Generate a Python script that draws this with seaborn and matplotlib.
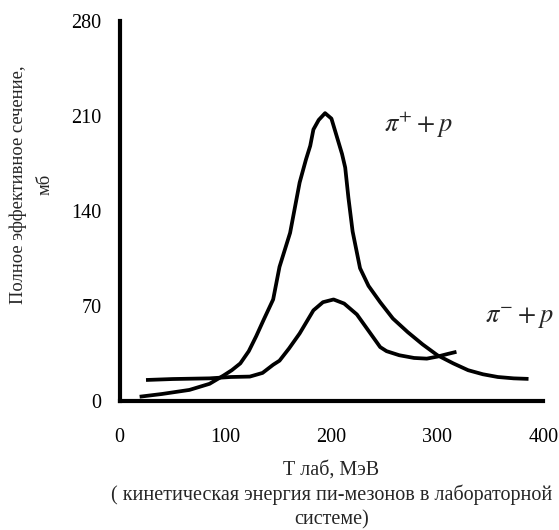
import pandas as pd
import matplotlib
matplotlib.use("Agg")
import matplotlib.pyplot as plt
import seaborn as sns

# pi+ p cross-section (T lab, MeV -> mb)
t_plus = [19, 40, 66, 85, 98, 106, 114, 122, 129, 136, 145, 151, 161, 170, 176, 180,
          183, 188, 194, 200, 205, 210, 213, 216, 220, 227, 235, 246, 258, 272, 286,
          300, 315, 329, 343, 357, 372, 386]
s_plus = [3.5, 5.5, 8.5, 13, 19, 23, 28, 37, 48, 60, 75, 99, 124, 161, 178, 188,
          200, 207, 212, 208, 195, 182, 172, 150, 125, 98, 85, 73, 61, 51, 42,
          34, 28, 23, 20, 18, 17, 16.6]

# pi- p cross-section
t_minus = [25, 50, 85, 105, 123, 135, 145, 151, 160, 170, 183, 192, 202, 212, 224,
           235, 246, 252, 264, 278, 290, 300, 310, 318]
s_minus = [15.8, 16.5, 17, 18, 18.3, 21, 27, 30, 39, 50, 67, 73, 75, 72, 64,
           52, 40, 37, 34, 32, 31.5, 33, 35, 36.5]

x_ticks = [0, 100, 200, 300, 400]
y_ticks = [0, 70, 140, 210, 280]


def build_frame():
    a = pd.DataFrame({"T": t_plus, "sigma": s_plus, "reaction": "plus"})
    b = pd.DataFrame({"T": t_minus, "sigma": s_minus, "reaction": "minus"})
    return pd.concat([a, b], ignore_index=True)


def draw(data):
    sns.set_style("white")
    plt.rcParams["font.family"] = ["Liberation Serif", "DejaVu Serif"]
    plt.rcParams["mathtext.fontset"] = "stix"

    fig = plt.figure(figsize=(5.59, 5.30), dpi=100)
    ax = fig.add_axes([0.2138, 0.2425, 0.7582, 0.7185])

    sns.lineplot(data=data, x="T", y="sigma", units="reaction", estimator=None,
                 color="black", linewidth=2.7, sort=False, ax=ax,
                 solid_capstyle="butt", solid_joinstyle="round")

    ax.set_xlim(0, 400)
    ax.set_ylim(0, 280)
    ax.set_xticks(x_ticks)
    ax.set_yticks(y_ticks)
    ax.tick_params(axis="both", labelsize=14.5, colors="black", width=3,
                   direction="out")
    ax.tick_params(axis="y", length=4, pad=9)
    ax.tick_params(axis="x", length=3, pad=16)

    for side in ["top", "right"]:
        ax.spines[side].set_visible(False)
    for side in ["left", "bottom"]:
        ax.spines[side].set_linewidth(3)
        ax.spines[side].set_color("black")

    ax.set_xlabel("Т лаб, МэВ\n( кинетическая энергия пи-мезонов в лабораторной\nсистеме)",
                  fontsize=14.5, linespacing=1.35, va="top")
    ax.xaxis.set_label_coords(0.5, -0.155)
    ax.set_ylabel("Полное эффективное сечение,\nмб", fontsize=13.3,
                  linespacing=1.75)
    ax.yaxis.set_label_coords(-0.155, 0.569)

    ax.text(249.5, 203, r"$\pi^{+} + p$", fontsize=19, ha="left", va="center")
    ax.text(345, 61, r"$\pi^{-} + p$", fontsize=19, ha="left", va="center",
            clip_on=False)

    fig.savefig("out.png", dpi=100)


if __name__ == "__main__":
    draw(build_frame())
